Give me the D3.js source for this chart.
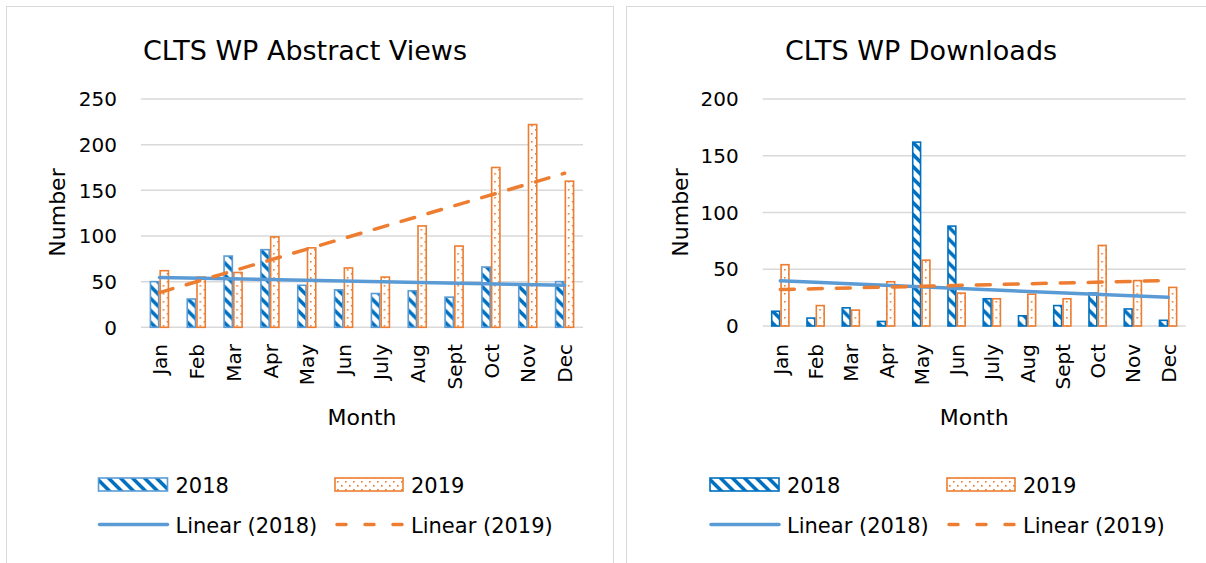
<!DOCTYPE html>
<html>
<head>
<meta charset="utf-8">
<script src="https://cdn.jsdelivr.net/npm/d3@7"></script>
<style>
  body { margin: 0; background: #fff; }
  svg { display: block; font-family: 'DejaVu Sans', sans-serif; }
</style>
</head>
<body>
<svg id="chart" width="1206" height="563"></svg>
<script>
const months = ['Jan', 'Feb', 'Mar', 'Apr', 'May', 'Jun', 'July', 'Aug', 'Sept', 'Oct', 'Nov', 'Dec'];
const years = ['2018', '2019'];

const views2018 = [50, 31, 78, 85, 46, 41, 37, 40, 33, 66, 47, 50];
const views2019 = [62, 55, 60, 99, 87, 65, 55, 111, 89, 175, 222, 160];
const downloads2018 = [13, 7, 16, 4, 162, 88, 24, 9, 18, 29, 15, 5];
const downloads2019 = [54, 18, 14, 39, 58, 29, 24, 28, 24, 71, 40, 34];

const viewsTicks = [0, 50, 100, 150, 200, 250];
const downloadsTicks = [0, 50, 100, 150, 200];

const BLUE = '#5B9BD5';
const DARK_BLUE = '#0070C0';
const ORANGE = '#ED7D31';

const svg = d3.select('#chart');
const defs = svg.append('defs');

// wide downward diagonal, like the excel pattern fill
const stripe = defs.append('pattern')
  .attr('id', 'pattern-stripe')
  .attr('width', 12)
  .attr('height', 12)
  .attr('patternUnits', 'userSpaceOnUse');
stripe.append('rect').attr('width', 12).attr('height', 12).attr('fill', '#fff');
stripe.append('path')
  .attr('d', 'M0,0L5,0L12,7L12,12ZM0,7L5,12L0,12Z')
  .attr('fill', DARK_BLUE);

// small dots
const dots = defs.append('pattern')
  .attr('id', 'pattern-dots')
  .attr('width', 8)
  .attr('height', 8)
  .attr('patternUnits', 'userSpaceOnUse');
dots.append('rect').attr('width', 8).attr('height', 8).attr('fill', '#fff');
dots.append('rect').attr('x', 1).attr('y', 1).attr('width', 1.6).attr('height', 1.6).attr('fill', ORANGE);
dots.append('rect').attr('x', 5).attr('y', 5).attr('width', 1.6).attr('height', 1.6).attr('fill', ORANGE);

const linearFit = (values) => {
  const n = values.length;
  const mx = d3.mean(values, (d, i) => i);
  const my = d3.mean(values);
  const sxy = d3.sum(values, (d, i) => (i - mx) * (d - my));
  const sxx = d3.sum(values, (d, i) => (i - mx) * (i - mx));
  const slope = sxy / sxx;
  return [0, n - 1].map(i => ({ i, v: my + slope * (i - mx) }));
};

function drawPanel(o) {
  const g = svg.append('g');

  g.append('rect')
    .attr('x', o.frame[0] + 0.5)
    .attr('y', 6.5)
    .attr('width', o.frame[1] - o.frame[0])
    .attr('height', 600)
    .attr('fill', '#fff')
    .attr('stroke', '#d9d9d9');

  g.append('text')
    .attr('x', o.titleX)
    .attr('y', 60)
    .attr('text-anchor', 'middle')
    .style('font-size', '27px')
    .attr('fill', '#000')
    .text(o.title);

  const x = d3.scaleBand()
    .domain(months)
    .range([o.left, o.right])
    .paddingInner(0.47)
    .paddingOuter(0.235);

  const x1 = d3.scaleBand()
    .domain(years)
    .range([0, x.bandwidth()]);

  const y = d3.scaleLinear()
    .domain([0, o.yMax])
    .range([o.bottom, 99]);

  const xc = i => x(months[i]) + x.bandwidth() / 2;

  g.append('g')
    .selectAll('line')
    .data(o.ticks)
    .enter()
    .append('line')
    .attr('x1', o.left)
    .attr('x2', o.right)
    .attr('y1', d => y(d))
    .attr('y2', d => y(d))
    .attr('stroke', '#d9d9d9')
    .attr('stroke-width', 1.5);

  g.append('g')
    .selectAll('text')
    .data(o.ticks)
    .enter()
    .append('text')
    .attr('x', o.left - 24)
    .attr('y', d => y(d))
    .attr('dy', '0.36em')
    .attr('text-anchor', 'end')
    .style('font-size', '20px')
    .attr('fill', '#000')
    .text(d => d);

  g.append('text')
    .attr('transform', `translate(${o.yLabelX},212.5) rotate(-90)`)
    .attr('text-anchor', 'middle')
    .style('font-size', '22px')
    .attr('fill', '#000')
    .text('Number');

  g.append('g')
    .selectAll('text')
    .data(months)
    .enter()
    .append('text')
    .attr('transform', d => `translate(${x(d) + x.bandwidth() / 2},344) rotate(-90)`)
    .attr('dy', '0.38em')
    .attr('text-anchor', 'end')
    .style('font-size', '20px')
    .attr('fill', '#000')
    .text(d => d);

  g.append('text')
    .attr('x', (o.left + o.right) / 2)
    .attr('y', 425)
    .attr('text-anchor', 'middle')
    .style('font-size', '22px')
    .attr('fill', '#000')
    .text('Month');

  const rows = months.map((m, i) => ({ m, values: [o.a[i], o.b[i]] }));
  const styles = [
    { fill: 'url(#pattern-stripe)', stroke: o.stroke2018 },
    { fill: 'url(#pattern-dots)', stroke: ORANGE }
  ];

  g.append('g')
    .selectAll('g')
    .data(rows)
    .enter()
    .append('g')
    .attr('transform', d => `translate(${x(d.m)},0)`)
    .selectAll('rect')
    .data(d => d.values.map((v, k) => ({ v, k })))
    .enter()
    .append('rect')
    .attr('x', d => x1(years[d.k]) + 0.75)
    .attr('y', d => y(d.v))
    .attr('width', x1.bandwidth() - 1.5)
    .attr('height', d => y(0) - y(d.v))
    .attr('fill', d => styles[d.k].fill)
    .attr('stroke', d => styles[d.k].stroke)
    .attr('stroke-width', 1.6);

  const line = d3.line()
    .x(d => xc(d.i))
    .y(d => y(d.v));

  g.append('path')
    .datum(linearFit(o.a))
    .attr('d', line)
    .attr('fill', 'none')
    .attr('stroke', BLUE)
    .attr('stroke-width', 3.5)
    .attr('stroke-linecap', 'round');

  g.append('path')
    .datum(linearFit(o.b))
    .attr('d', line)
    .attr('fill', 'none')
    .attr('stroke', ORANGE)
    .attr('stroke-width', 3.5)
    .attr('stroke-dasharray', '14,14')
    .attr('stroke-linecap', 'round');

  // legend
  const lg = g.append('g');
  const lx = o.legendX;

  lg.append('rect')
    .attr('x', lx[0])
    .attr('y', 478)
    .attr('width', 69)
    .attr('height', 13)
    .attr('fill', 'url(#pattern-stripe)')
    .attr('stroke', o.stroke2018)
    .attr('stroke-width', 1.6);

  lg.append('rect')
    .attr('x', lx[1])
    .attr('y', 478)
    .attr('width', 68)
    .attr('height', 13)
    .attr('fill', 'url(#pattern-dots)')
    .attr('stroke', ORANGE)
    .attr('stroke-width', 1.6);

  lg.append('line')
    .attr('x1', lx[0] + 1).attr('x2', lx[0] + 69)
    .attr('y1', 524.5).attr('y2', 524.5)
    .attr('stroke', BLUE)
    .attr('stroke-width', 3.5)
    .attr('stroke-linecap', 'round');

  lg.append('line')
    .attr('x1', lx[1] + 2).attr('x2', lx[1] + 68)
    .attr('y1', 524.5).attr('y2', 524.5)
    .attr('stroke', ORANGE)
    .attr('stroke-width', 3.5)
    .attr('stroke-dasharray', '9,19')
    .attr('stroke-linecap', 'round');

  const labels = [
    { t: years[0], x: lx[0] + 77, y: 493 },
    { t: years[1], x: lx[1] + 76, y: 493 },
    { t: `Linear (${years[0]})`, x: lx[0] + 77, y: 533 },
    { t: `Linear (${years[1]})`, x: lx[1] + 76, y: 533 }
  ];

  lg.selectAll('text')
    .data(labels)
    .enter()
    .append('text')
    .attr('x', d => d.x)
    .attr('y', d => d.y)
    .style('font-size', '21px')
    .attr('fill', '#000')
    .text(d => d.t);
}

drawPanel({
  frame: [6, 613],
  title: 'CLTS WP Abstract Views',
  titleX: 305,
  left: 141,
  right: 583,
  bottom: 327.3,
  yMax: 250,
  ticks: viewsTicks,
  yLabelX: 65,
  a: views2018,
  b: views2019,
  stroke2018: BLUE,
  legendX: [98.5, 335]
});

drawPanel({
  frame: [626, 1230],
  title: 'CLTS WP Downloads',
  titleX: 921,
  left: 762.7,
  right: 1185.7,
  bottom: 326,
  yMax: 200,
  ticks: downloadsTicks,
  yLabelX: 688,
  a: downloads2018,
  b: downloads2019,
  stroke2018: DARK_BLUE,
  legendX: [710, 947]
});
</script>
</body>
</html>
